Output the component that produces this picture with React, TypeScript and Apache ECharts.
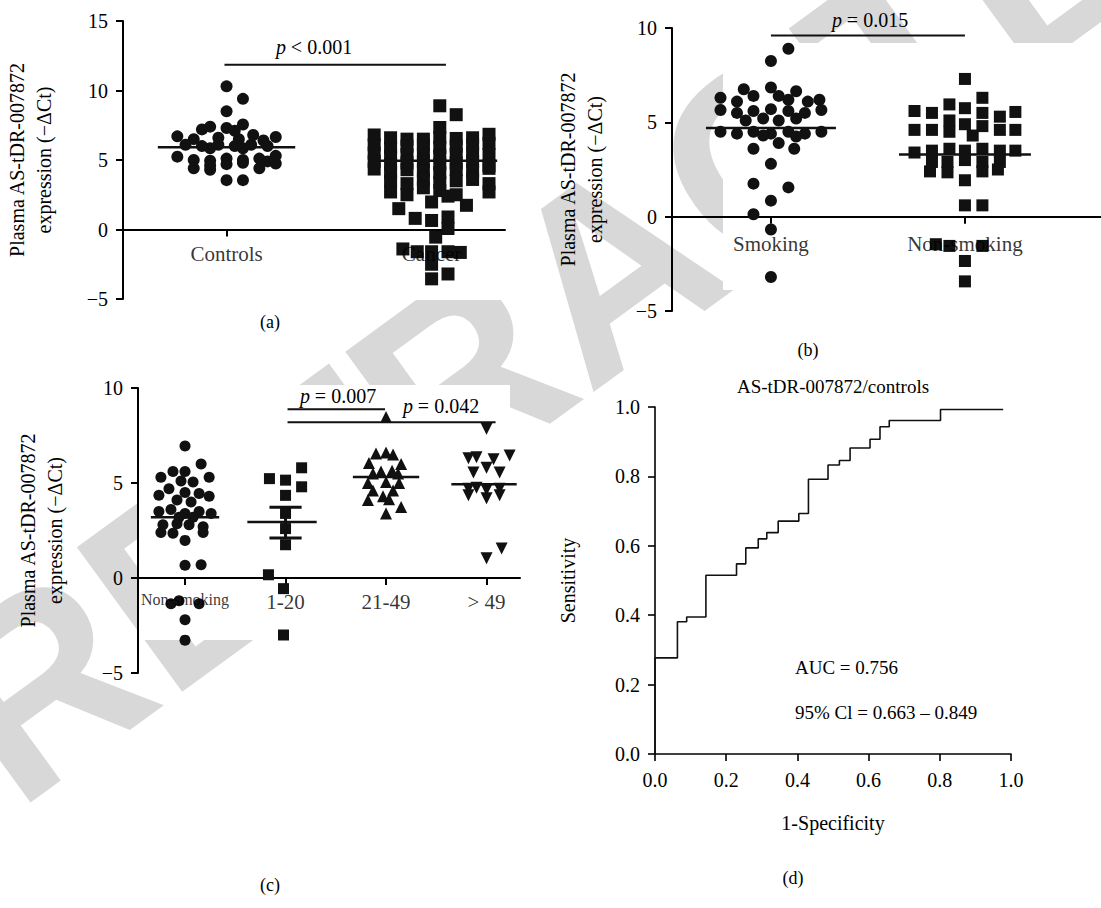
import React, { useEffect, useRef } from 'react';
import * as echarts from 'echarts';

const FONT = '"Liberation Serif", "DejaVu Serif", serif';
const INK = '#111';

// ---------- Panel (a) ----------
const catsA = ['Controls', 'Cancer'];
const controlsPts: [number, number][] = [
  [0, 10.3], [0.08, 9.4], [0, 8.5], [0.08, 7.55],
  [-0.24, 6.7], [0.24, 6.65], [-0.12, 7.2], [-0.08, 7.4], [0, 7.3], [0.04, 7.1], [0.13, 6.8],
  [-0.16, 6.5], [-0.04, 6.6], [0.06, 6.5], [0.18, 6.4],
  [-0.2, 6.1], [-0.12, 6.0], [-0.04, 6.1], [0.04, 6.0], [0.12, 6.1], [0.2, 6.0], [-0.08, 5.85], [0.08, 5.85],
  [-0.24, 5.24], [-0.16, 5.0], [-0.08, 4.95], [0, 5.1], [0.08, 5.0], [0.16, 5.1], [0.24, 5.3],
  [-0.16, 4.4], [-0.08, 4.3], [0, 4.7], [0.08, 4.8], [0.16, 4.4], [0.24, 4.75], [-0.08, 4.6], [0.2, 4.9],
  [0, 3.55], [0.08, 3.55],
];
const cancerPts: [number, number][] = [
  [0.04, 8.9], [0.12, 8.26], [0.04, 7.34],
  [-0.28, 6.8], [-0.2, 6.6], [-0.12, 6.5], [-0.04, 6.5], [0.04, 6.6], [0.12, 6.55], [0.2, 6.6], [0.28, 6.85],
  [-0.28, 6.1], [-0.2, 5.9], [-0.12, 6.0], [-0.04, 6.1], [0.04, 5.9], [0.12, 6.0], [0.2, 6.1], [0.28, 6.2],
  [-0.28, 5.5], [-0.2, 5.3], [-0.12, 5.4], [-0.04, 5.5], [0.04, 5.3], [0.12, 5.4], [0.2, 5.5], [0.28, 5.4],
  [-0.28, 4.9], [-0.2, 4.7], [-0.12, 4.8], [-0.04, 4.9], [0.04, 4.7], [0.12, 4.8], [0.2, 4.9], [0.28, 4.6],
  [-0.28, 4.35], [-0.2, 4.1], [-0.12, 4.3], [-0.04, 4.2], [0.04, 4.1], [0.12, 4.3], [0.2, 4.2], [0.28, 4.4],
  [-0.2, 3.5], [-0.12, 3.3], [-0.04, 3.6], [0.04, 3.4], [0.12, 3.5], [0.2, 3.6], [0.28, 3.3],
  [-0.2, 2.7], [-0.12, 2.5], [-0.04, 3.0], [0.04, 2.8], [0.12, 2.5], [0.28, 2.7],
  [-0.16, 1.5], [0, 1.98], [0.08, 2.4], [0.17, 1.74], [-0.08, 0.8], [0, 0.65], [0.08, 0.9], [0.08, 0.07],
  [0.02, -0.55], [-0.14, -1.4], [-0.07, -1.6], [0, -1.6], [0.08, -1.6], [0.14, -1.65], [0, -2.5], [0, -3.55], [0.08, -3.2],
];
const meansA = [5.92, 4.95];

// ---------- Panel (b) ----------
const catsB = ['Smoking', 'Non-smoking'];
const smokingPts: [number, number][] = [
  [0.09, 8.9], [0, 8.25],
  [-0.26, 6.3], [-0.14, 6.75], [0, 6.85], [0.13, 6.65], [0.25, 6.2], [0.19, 6.1],
  [-0.175, 6.1], [-0.09, 6.4], [0.04, 6.4], [0.09, 6.2],
  [-0.26, 5.65], [0.26, 5.65],
  [-0.175, 5.5], [-0.09, 5.6], [0, 5.7], [0.09, 5.6], [0.175, 5.5],
  [-0.13, 5.1], [-0.04, 5.2], [0.04, 5.1], [0.13, 5.2],
  [-0.26, 4.5], [-0.175, 4.4], [-0.09, 4.5], [0, 4.4], [0.09, 4.5], [0.175, 4.4], [0.26, 4.5], [-0.04, 4.3], [0.13, 4.25],
  [0.04, 3.9], [-0.09, 3.6], [0.12, 3.6],
  [0, 2.8], [-0.09, 1.75], [0.09, 1.55], [0, 0.85], [-0.09, 0.13], [0, -0.68], [0, -3.2],
];
const nonSmokingPtsB: [number, number][] = [
  [0, 7.3], [0.09, 6.3],
  [-0.26, 5.6], [-0.17, 5.5], [-0.08, 5.95], [0, 5.75], [0.09, 5.5], [0.18, 5.3], [0.26, 5.55],
  [-0.26, 4.6], [-0.17, 4.6], [-0.08, 5.1], [0, 4.9], [0.09, 4.8], [0.18, 4.6], [0.26, 4.6], [-0.08, 4.5], [0.04, 4.3],
  [-0.26, 3.4], [-0.17, 3.5], [-0.08, 3.6], [0, 3.5], [0.09, 3.6], [0.18, 3.5], [0.26, 3.5],
  [-0.17, 2.9], [-0.09, 2.9], [0, 3.0], [0.09, 2.9], [0.18, 2.9],
  [-0.18, 2.4], [-0.09, 2.35], [0.09, 2.4], [0.17, 2.5],
  [0, 1.93], [0, 0.6], [0.09, 0.6],
  [-0.15, -1.46], [-0.08, -1.55], [0.09, -1.55], [0, -2.35], [0, -3.43],
];
const meansB = [4.7, 3.3];

// ---------- Panel (c) ----------
const catsC = ['Non-smoking', '1-20', '21-49', '> 49'];
const nonSmokingPtsC: [number, number][] = [
  [0, 6.95], [0.16, 6.0], [0.24, 5.3], [-0.24, 5.3], [-0.12, 5.6], [0, 5.6], [0.08, 5.05], [-0.04, 5.1],
  [-0.16, 4.7], [0, 4.5], [0.14, 4.45], [-0.26, 4.35], [-0.08, 4.1], [0.24, 4.3], [0.06, 4.0],
  [-0.26, 3.5], [-0.14, 3.6], [0, 3.4], [0.14, 3.5], [0.26, 3.4], [-0.06, 3.2], [0.08, 3.2],
  [-0.22, 2.8], [-0.08, 2.85], [0.04, 2.8], [0.18, 2.7],
  [-0.24, 2.4], [-0.12, 2.35], [0.18, 2.4],
  [0, 1.98], [0, 0.67], [0.16, 0.7], [-0.14, -1.35], [0.14, -1.35], [-0.06, -1.2], [0, -2.2], [0, -3.27],
];
const light120Pts: [number, number][] = [
  [0.16, 5.8], [-0.16, 5.23], [0, 5.15], [0.16, 4.8], [0, 4.35], [0, 3.4], [0, 2.6], [0, 1.75],
  [-0.17, 0.17], [-0.02, -0.56], [-0.02, -3.0],
];
const mid2149Pts: [number, number][] = [
  [0, 8.47], [-0.1, 6.55], [0, 6.6], [0.07, 6.5], [-0.17, 6.05], [0.15, 6.0],
  [-0.13, 5.5], [0.12, 5.5], [-0.05, 5.6], [0.06, 5.65],
  [-0.18, 5.0], [0, 5.05], [0.13, 5.0], [-0.13, 4.6], [0.07, 4.6],
  [-0.18, 4.1], [-0.03, 4.3], [0.03, 4.15], [0.15, 3.74], [0, 3.4],
];
const heavyPts: [number, number][] = [
  [0, 7.86], [-0.18, 6.3], [-0.1, 6.35], [0.07, 6.25], [0.23, 6.45],
  [0, 5.8], [-0.13, 5.55], [0.13, 5.55],
  [-0.18, 4.7], [-0.1, 4.75], [0, 4.65], [0.13, 4.7],
  [-0.18, 4.35], [0.13, 4.35], [0, 4.2],
  [0, 1.04], [0.15, 1.55],
];
const meansC = [3.2, 2.95, 5.32, 4.93];
const semC120 = [3.72, 2.1];

// ---------- Panel (d) ROC ----------
const rocFpr = [0, 0, 0.063, 0.089, 0.143, 0.229, 0.255, 0.29, 0.314, 0.346, 0.404, 0.431, 0.486, 0.518, 0.548, 0.604, 0.632, 0.658, 0.802, 0.978];
const rocTpr = [0, 0.277, 0.381, 0.395, 0.515, 0.548, 0.594, 0.62, 0.638, 0.671, 0.693, 0.792, 0.833, 0.846, 0.882, 0.907, 0.943, 0.961, 0.993, 0.993];

// significance brackets [x1, x2, y]
const pLineA = [0.99, 2.07, 11.85];
const pLineB = [1, 2, 9.6];
const pLineC1 = [2.02, 2.99, 8.88];
const pLineC2 = [2.02, 4.09, 8.2];

const yName = 'Plasma AS-tDR-007872\nexpression (\u2212\u0394Ct)';
const minusFmt = (v: number) => (v < 0 ? '\u2212' + Math.abs(v) : String(v));

function xAxisCat(gridIndex: number, cats: string[], min: number, max: number) {
  const vals = cats.map((_, i) => i + 1);
  return {
    type: 'value', gridIndex, min, max,
    splitLine: { show: false },
    axisLine: { show: true, onZero: true, lineStyle: { color: '#000', width: 2 } },
    axisTick: { show: true, customValues: vals, length: 7, lineStyle: { color: '#000', width: 2 } },
    axisLabel: { show: false },
  };
}

function catLabels(idx: number, cats: string[], distance: number, size: number, firstSize?: number) {
  return {
    type: 'scatter', xAxisIndex: idx, yAxisIndex: idx, symbolSize: 1, silent: true,
    itemStyle: { color: 'rgba(0,0,0,0)' },
    z: 5,
    data: cats.map((c, i) => ({
      value: [i + 1, 0],
      label: {
        show: true, position: 'bottom', distance, formatter: c, color: '#000',
        fontFamily: FONT, fontSize: i === 0 && firstSize ? firstSize : size,
      },
    })),
  };
}

function yAxisVal(gridIndex: number, min: number, max: number, interval: number, name: string, gap: number, fmt?: (v: number) => string) {
  return {
    type: 'value', gridIndex, min, max, interval,
    name, nameLocation: 'middle', nameGap: gap, nameRotate: 90,
    nameTextStyle: { fontFamily: FONT, fontSize: 20, color: '#000', lineHeight: 27 },
    splitLine: { show: false },
    axisLine: { show: true, onZero: false, lineStyle: { color: '#000', width: 2 } },
    axisTick: { show: true, length: 7, lineStyle: { color: '#000', width: 2 } },
    axisLabel: { margin: 15, color: '#000', fontFamily: FONT, fontSize: 20, formatter: fmt },
  };
}

function scatter(idx: number, cat: number, pts: [number, number][], symbol: string, size: number, rotate = 0) {
  return {
    type: 'scatter', xAxisIndex: idx, yAxisIndex: idx, symbol, symbolSize: size, symbolRotate: rotate,
    itemStyle: { color: INK, opacity: 1 },
    data: pts.map(([o, v]) => [cat + o, v]),
    z: 3,
  };
}

function seg(idx: number, x1: number, x2: number, y: number, width: number) {
  return {
    type: 'line', xAxisIndex: idx, yAxisIndex: idx, symbol: 'none', silent: true,
    lineStyle: { color: INK, width }, data: [[x1, y], [x2, y]], z: 4,
  };
}

function vseg(idx: number, x: number, y1: number, y2: number, width: number) {
  return {
    type: 'line', xAxisIndex: idx, yAxisIndex: idx, symbol: 'none', silent: true,
    lineStyle: { color: INK, width }, data: [[x, y1], [x, y2]], z: 4,
  };
}

function ptext(x: number, y: number, rest: string) {
  return {
    type: 'text', x, y, z: 10,
    style: {
      text: '{i|p}' + rest, fill: '#000', fontFamily: FONT, fontSize: 20,
      textAlign: 'center', textVerticalAlign: 'middle',
      rich: { i: { fontStyle: 'italic', fontFamily: FONT, fontSize: 20 } },
    },
  };
}

function plain(x: number, y: number, text: string, size: number, align = 'center') {
  return {
    type: 'text', x, y, z: 10,
    style: { text, fill: '#000', fontFamily: FONT, fontSize: size, textAlign: align, textVerticalAlign: 'middle' },
  };
}

function whiteRect(x: number, y: number, w: number, h: number) {
  return { type: 'rect', z: -5, silent: true, shape: { x, y, width: w, height: h }, style: { fill: '#fff' } };
}

export default function App() {
  const ref = useRef<HTMLDivElement>(null);
  useEffect(() => {
    const chart = echarts.init(ref.current!, null, { renderer: 'svg' });
    const series: any[] = [
      // (a)
      scatter(0, 1, controlsPts, 'circle', 12),
      scatter(0, 2, cancerPts, 'rect', 13),
      seg(0, 1 - 0.335, 1 + 0.335, meansA[0], 2.5),
      seg(0, 2 - 0.31, 2 + 0.32, meansA[1], 2.5),
      seg(0, pLineA[0], pLineA[1], pLineA[2], 2),
      catLabels(0, catsA, 13, 21),
      // (b)
      scatter(1, 1, smokingPts, 'circle', 12),
      scatter(1, 2, nonSmokingPtsB, 'rect', 12),
      seg(1, 1 - 0.335, 1 + 0.335, meansB[0], 2.5),
      seg(1, 2 - 0.34, 2 + 0.34, meansB[1], 2.5),
      seg(1, pLineB[0], pLineB[1], pLineB[2], 2),
      catLabels(1, catsB, 16, 21),
      // (c)
      scatter(2, 1, nonSmokingPtsC, 'circle', 11),
      scatter(2, 2, light120Pts, 'rect', 11),
      scatter(2, 3, mid2149Pts, 'triangle', 12),
      scatter(2, 4, heavyPts, 'triangle', 12, 180),
      seg(2, 1 - 0.34, 1 + 0.34, meansC[0], 2.5),
      seg(2, 2 - 0.38, 2 + 0.31, meansC[1], 2.5),
      seg(2, 2 - 0.16, 2 + 0.16, semC120[0], 3),
      seg(2, 2 - 0.16, 2 + 0.16, semC120[1], 3),
      vseg(2, 2, semC120[1], semC120[0], 3),
      seg(2, 3 - 0.33, 3 + 0.33, meansC[2], 2.5),
      seg(2, 4 - 0.35, 4 + 0.3, meansC[3], 2.5),
      seg(2, pLineC1[0], pLineC1[1], pLineC1[2], 2),
      seg(2, pLineC2[0], pLineC2[1], pLineC2[2], 2),
      catLabels(2, catsC, 13, 21, 16),
      // (d)
      {
        type: 'line', xAxisIndex: 3, yAxisIndex: 3, step: 'end', symbol: 'none',
        lineStyle: { color: INK, width: 1.6 },
        data: rocFpr.map((x, i) => [x, rocTpr[i]]),
      },
    ];

    const option: any = {
      animation: false,
      backgroundColor: '#fff',
      grid: [
        { left: 123, top: 21, width: 382, height: 278 },
        { left: 672, top: 28, width: 429, height: 283 },
        { left: 138, top: 388, width: 382, height: 285 },
        { left: 655, top: 407, width: 356, height: 347 },
      ],
      xAxis: [
        xAxisCat(0, catsA, 0.495, 2.358),
        xAxisCat(1, catsB, 0.49, 0.49 + 429 / 194),
        xAxisCat(2, catsC, 0.532, 4.333),
        {
          type: 'value', gridIndex: 3, min: 0, max: 1, interval: 0.2,
          name: '1-Specificity', nameLocation: 'middle', nameGap: 59,
          nameTextStyle: { fontFamily: FONT, fontSize: 20, color: '#000', verticalAlign: 'top' },
          splitLine: { show: false },
          axisLine: { show: true, onZero: false, lineStyle: { color: '#000', width: 1.6 } },
          axisTick: { show: true, length: 7, lineStyle: { color: '#000', width: 1.6 } },
          axisLabel: { margin: 16, color: '#000', fontFamily: FONT, fontSize: 20, formatter: (v: number) => v.toFixed(1) },
        },
      ],
      yAxis: [
        yAxisVal(0, -5, 15, 5, yName, 66, minusFmt),
        yAxisVal(1, -5, 10, 5, yName, 64, minusFmt),
        yAxisVal(2, -5, 10, 5, yName, 70, minusFmt),
        {
          ...yAxisVal(3, 0, 1, 0.2, 'Sensitivity', 74, (v: number) => v.toFixed(1)),
          axisLine: { show: true, onZero: false, lineStyle: { color: '#000', width: 1.6 } },
          axisTick: { show: true, length: 7, lineStyle: { color: '#000', width: 1.6 } },
        },
      ],
      graphic: [
        {
          type: 'text', x: 40, y: 845, rotation: 0.63, z: -10, silent: true,
          style: {
            text: 'RETRACTED', fill: '#d8d8d8', fontFamily: '"Liberation Sans", sans-serif',
            fontWeight: 'bold', fontSize: 260, textAlign: 'left', textVerticalAlign: 'bottom',
          },
        },
        whiteRect(0, 0, 540, 300),
        whiteRect(723, 43, 378, 247),
        whiteRect(138, 385, 372, 255),
        whiteRect(665, 372, 436, 536),
        ptext(314, 47, ' < 0.001'),
        ptext(870, 20, ' = 0.015'),
        ptext(338, 396, ' = 0.007'),
        ptext(441, 406, ' = 0.042'),
        plain(270, 322, '(a)', 18),
        plain(808, 350, '(b)', 18),
        plain(270, 885, '(c)', 18),
        plain(793, 878, '(d)', 18),
        plain(833, 386, 'AS-tDR-007872/controls', 19),
        plain(795, 667, 'AUC = 0.756', 19, 'left'),
        plain(795, 712, '95% Cl = 0.663 \u2013 0.849', 19, 'left'),
      ],
      series,
    };
    chart.setOption(option);
    return () => chart.dispose();
  }, []);
  return (
    <div
      ref={ref}
      style={{ position: 'fixed', left: 0, top: 0, width: 1101, height: 908, background: '#fff' }}
    />
  );
}
